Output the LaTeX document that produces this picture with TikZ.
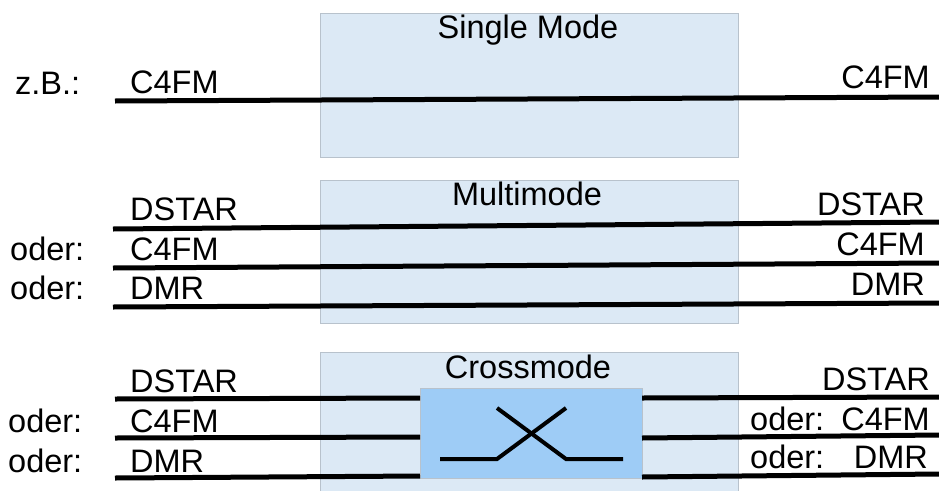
\documentclass[tikz,border=0pt]{standalone}
\usepackage{fontspec}
\setmainfont{Liberation Sans}
\definecolor{boxfill}{RGB}{220,233,245}
\definecolor{boxline}{RGB}{184,194,204}
\definecolor{innerfill}{RGB}{158,204,246}
\begin{document}
\begin{tikzpicture}[x=1pt,y=-1pt,
  modebox/.style={draw=boxline,line width=1pt,fill=boxfill},
  innerbox/.style={draw=boxline,line width=1pt,fill=innerfill},
  sig/.style={line width=5pt,line cap=butt},
  lbl/.style={inner sep=0pt,font=\fontsize{32.5}{38}\selectfont},
  lw/.style={lbl,anchor=base west},
  le/.style={lbl,anchor=base east},
  ttl/.style={lbl,anchor=base}]
\useasboundingbox (0,0) rectangle (939,490);
\clip (0,0) rectangle (939,490);
% boxes
\draw[modebox] (320,13) rectangle (738,157);
\draw[modebox] (320,180) rectangle (738,323);
\draw[modebox] (320,352) rectangle (738,500);
\node[ttl] (t1) at (528,38) {Single Mode};
\node[ttl] (t2) at (527,205) {Multimode};
\node[ttl] (t3) at (528,378) {Crossmode};
\draw[innerbox] (420,388) rectangle (642,478);
\coordinate (x1) at (440,459);
\coordinate (x2) at (497,459);
\coordinate (x3) at (566,408);
\coordinate (x4) at (497,408);
\coordinate (x5) at (566,459);
\coordinate (x6) at (623,459);
\draw[line width=4pt] (x1) -- (x2) -- (x3);
\draw[line width=4pt] (x4) -- (x5) -- (x6);
% row 1
\coordinate (a1) at (115,101);
\coordinate (b1) at (939,97);
\draw[sig] (a1) -- (b1);
\node[lw] (zb) at (15,94) {z.B.:};
\node[lw] (l1) at (130,93) {C4FM};
\node[le] (r1) at (930,88) {C4FM};
% row 2
\coordinate (a21) at (113,229);
\coordinate (b21) at (939,222);
\coordinate (a22) at (113,268);
\coordinate (b22) at (939,263);
\coordinate (a23) at (113,307);
\coordinate (b23) at (939,303);
\draw[sig] (a21) -- (b21);
\draw[sig] (a22) -- (b22);
\draw[sig] (a23) -- (b23);
\node[lw] (l21) at (130,220) {DSTAR};
\node[lw] (l22) at (130,260) {C4FM};
\node[lw] (l23) at (130,299) {DMR};
\node[lw] (o22) at (10,260) {oder:};
\node[lw] (o23) at (10,299) {oder:};
\node[le] (r21) at (925,215) {DSTAR};
\node[le] (r22) at (925,255) {C4FM};
\node[le] (r23) at (925,295) {DMR};
% row 3
\coordinate (a31) at (115,399);
\coordinate (c31) at (420,398);
\coordinate (a32) at (115,438);
\coordinate (c32) at (420,437);
\coordinate (a33) at (115,478);
\coordinate (c33) at (420,476);
\coordinate (d31) at (642,398);
\coordinate (b31) at (939,397);
\coordinate (d32) at (642,438);
\coordinate (b32) at (939,435);
\coordinate (d33) at (642,477);
\coordinate (b33) at (939,474);
\draw[sig] (a31) -- (c31);
\draw[sig] (a32) -- (c32);
\draw[sig] (a33) -- (c33);
\draw[sig] (d31) -- (b31);
\draw[sig] (d32) -- (b32);
\draw[sig] (d33) -- (b33);
\node[lw] (l31) at (130,392) {DSTAR};
\node[lw] (l32) at (130,432) {C4FM};
\node[lw] (l33) at (130,472) {DMR};
\node[lw] (o32) at (8,432) {oder:};
\node[lw] (o33) at (8,472) {oder:};
\node[le] (r31) at (930,390) {DSTAR};
\node[le] (r32) at (930,430) {C4FM};
\node[le] (r33) at (928,468) {DMR};
\node[lw] (ro32) at (750,430) {oder:};
\node[lw] (ro33) at (750,468) {oder:};
\end{tikzpicture}
\end{document}
